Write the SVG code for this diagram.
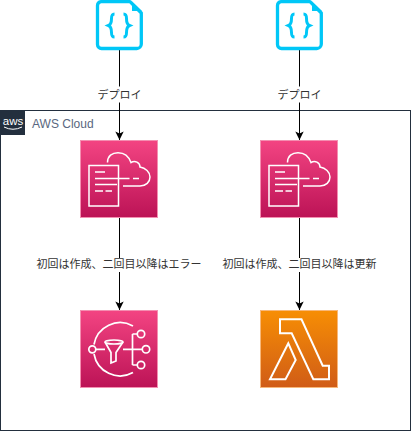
<svg xmlns="http://www.w3.org/2000/svg" width="411" height="431" viewBox="0 0 411 431">
<defs>
<linearGradient id="pink" x1="0" y1="0" x2="0" y2="1"><stop offset="0" stop-color="#F34482"/><stop offset="1" stop-color="#BC1356"/></linearGradient>
<linearGradient id="orange" x1="0" y1="0" x2="0" y2="1"><stop offset="0" stop-color="#F78E04"/><stop offset="1" stop-color="#D05C17"/></linearGradient>
<marker id="arrow" markerUnits="userSpaceOnUse" markerWidth="10" markerHeight="10" refX="9" refY="5" orient="auto"><path d="M0.500 0.800L9 5L0.500 9.200L2.500 5Z" fill="#000"/></marker>
<g id="doc"><path d="M5 1.700H34L45.300 13V44a4.500 4.500 0 0 1-4.500 4.500H5.500a4 4 0 0 1-4-4V5.500a4 4 0 0 1 3.500-3.800Z" fill="#fff" stroke="#00C7F7" stroke-width="3.300" stroke-linejoin="round"/><path d="M36 1.500V11H46Z" fill="#00C7F7"/><path d="M18.500 14c-2.500 0-3 1.500-3 4.500c0 3.500-.5 6-3 7c2.500 1 3 3.500 3 7c0 3 .5 4.500 3 4.500M27.500 14c2.500 0 3 1.500 3 4.500c0 3.500 .5 6 3 7c-2.500 1-3 3.500-3 7c0 3-.5 4.500-3 4.500" fill="none" stroke="#00C7F7" stroke-width="3"/></g>
<g id="cfn"><rect x="0.500" y="0.500" width="77" height="77" fill="url(#pink)" stroke="#F48FB1" stroke-width="1"/><g fill="none" stroke="#fff" stroke-width="1.500"><path d="M27.500 22.500C27.500 16 32 12.700 38 12.700C45 12.700 49 17 51 22.500C55 20 60 22.500 60 27C65.500 28 70 32 70 37C70 42 66 46 60 46H43"/><path d="M9 25.500H38.500V66H9Z"/><path d="M15 32H25M15 38.500H49.500M53 38.500H59M15 44.500H37M15 51H23M25.500 51H32"/></g></g>
<style>.l{font:11px "Liberation Sans","Noto Sans CJK JP",sans-serif;fill:#333;text-anchor:middle}.c{fill:none;stroke:#000;stroke-width:1;marker-end:url(#arrow)}.bg{fill:#fff}</style>
</defs>
<g id="aws-cloud"><rect x="0.500" y="110.500" width="410" height="320" fill="#fff" stroke="#232F3E" stroke-width="1"/><rect x="0" y="110" width="25" height="25" fill="#232F3E"/><text x="13" y="125" font-family="Liberation Sans,sans-serif" font-size="11.500" fill="#fff" text-anchor="middle">aws</text><path d="M4 127Q13 131.500 22 127" fill="none" stroke="#fff" stroke-width="1"/><text x="32" y="128" font-family="Liberation Sans,sans-serif" font-size="12" fill="#596780">AWS Cloud</text></g>
<g id="connectors">
<path class="c" d="M119.500 50V140"/><path class="c" d="M299.500 50V140"/><path class="c" d="M119.500 218V310"/><path class="c" d="M299.500 218V310"/>
</g>
<g id="doc-1"><use href="#doc" x="96" y="0"/></g>
<g id="doc-2"><use href="#doc" x="276" y="0"/></g>
<g id="label-1"><rect class="bg" x="96" y="86.500" width="47" height="16"/><text class="l" x="119.500" y="99">デプロイ</text></g>
<g id="label-2"><rect class="bg" x="276" y="86.500" width="47" height="16"/><text class="l" x="299.500" y="99">デプロイ</text></g>
<g id="cfn-1"><use href="#cfn" x="80" y="140"/></g>
<g id="cfn-2"><use href="#cfn" x="260" y="140"/></g>
<g id="label-3"><rect class="bg" x="36" y="258" width="166" height="14"/><text class="l" x="119" y="268">初回は作成、二回目以降はエラー</text></g>
<g id="label-4"><rect class="bg" x="222" y="258" width="155" height="14"/><text class="l" x="299.500" y="268">初回は作成、二回目以降は更新</text></g>
<g id="sns"><rect x="80.500" y="310.500" width="77" height="77" fill="url(#pink)" stroke="#F48FB1"/><g fill="none" stroke="#fff" stroke-width="1.700"><circle cx="92.300" cy="349.300" r="3.500"/><circle cx="141" cy="334" r="3.700"/><circle cx="146" cy="349.300" r="3.700"/><circle cx="141" cy="365" r="3.700"/><path d="M133 326A26.500 26.500 0 0 0 94 344.500M94 354A26.500 26.500 0 0 0 133 372.500"/><path d="M96 349.300H105M123 349.300H142.300M132.500 334H137.300M132.500 365H137.300M132.500 334V365"/><ellipse cx="114" cy="342" rx="9" ry="2"/><path d="M105 342L111 352.500V363L116 361V352.500L123 342"/></g></g>
<g id="lambda"><rect x="260.500" y="310.500" width="77" height="77" fill="url(#orange)" stroke="#F8B87A"/><path d="M280 319.300H301.500L322.700 365.700H329V379.300H313.300L291.700 333.300H280ZM288.300 343.300L270 379.300H285.500L295.700 360Z" fill="none" stroke="#fff" stroke-width="2" stroke-linejoin="miter"/></g>
</svg>
